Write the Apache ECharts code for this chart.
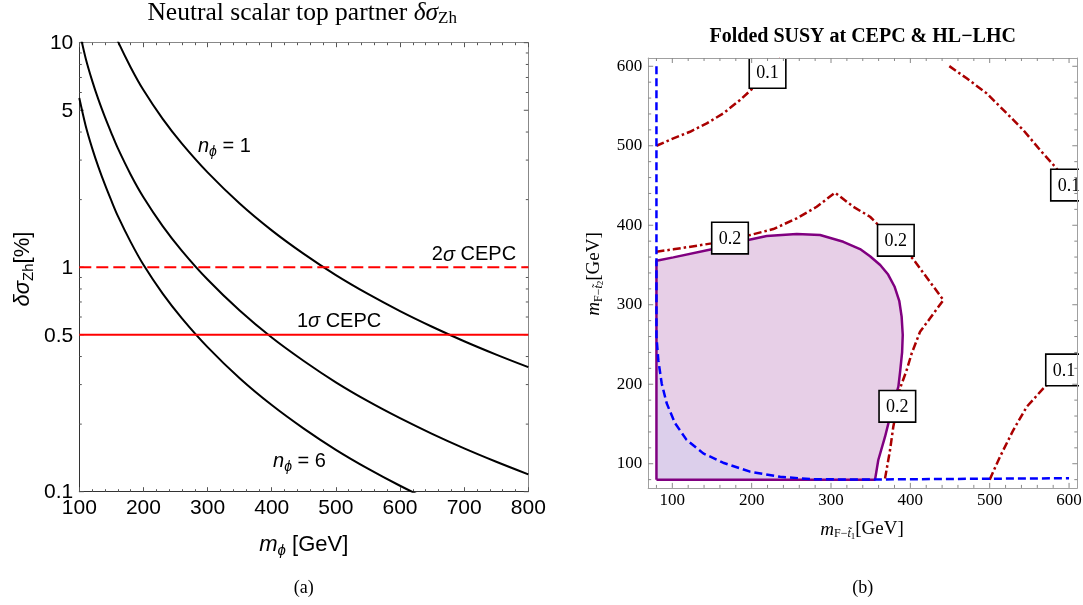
<!DOCTYPE html>
<html><head><meta charset="utf-8">
<script src="https://cdn.jsdelivr.net/npm/echarts@6/dist/echarts.min.js"></script>
<style>html,body{margin:0;padding:0;background:#fff}#c{width:1083px;height:605px}</style>
</head><body><div id="c"></div>
<script>
const SANS = "'Liberation Sans', Arial, Helvetica, sans-serif";
const SERIF = "'Liberation Serif', 'Times New Roman', Times, serif";

// ---------- Panel (a): neutral scalar top partner ----------
const massPhi = [100,110,120,130,140,150,160,180,200,230,260,300,350,400,450,500,550,600,650,700,750,800];
const deltaSigmaN1 = [34.0,25.54,20.35,16.69,13.98,11.87,10.16,7.78,6.15,4.575,3.55,2.644,1.922,1.459,1.146,0.922,0.760,0.6375,0.543,0.468,0.408,0.3586];
const deltaSigmaN3 = [11.33,8.51,6.78,5.56,4.66,3.96,3.39,2.59,2.05,1.525,1.183,0.881,0.641,0.486,0.382,0.307,0.253,0.2125,0.181,0.156,0.136,0.1195];
const deltaSigmaN6 = [5.667,4.257,3.392,2.782,2.330,1.978,1.693,1.297,1.025,0.7625,0.592,0.4407,0.3203,0.2432,0.191,0.1537,0.1267,0.1063,0.0905,0.078,0.068,0.0598];
const cepc2SigmaLevel = 1.0;
const cepc1SigmaLevel = 0.5;
const logMajorTicks = [0.1, 0.5, 1, 5, 10];
const logMajorLabels = ['0.1', '0.5', '1', '5', '10'];
const logMinorTicks = [0.2,0.3,0.4,0.6,0.7,0.8,0.9,2,3,4,6,7,8,9];

// ---------- Panel (b): folded SUSY ----------
const massMajorTicks = [100,200,300,400,500,600];
const massMajorLabels = ['100','200','300','400','500','600'];
const massMinorTicks = [80,120,140,160,180,220,240,260,280,320,340,360,380,420,440,460,480,520,540,560,580];
const purpleBoundary = [[80,80],[80,355.3],[101.3,359.6],[149.7,369.7],[185.3,379.2],[219,386.4],[256.8,388.9],[286.2,387.7],[315.5,379.2],[336.6,370],[349.2,361],[362,350],[372,338],[380,323],[386,305],[389,285],[390.4,262],[389.6,240],[387,215],[384.9,197],[376.5,167.5],[368.1,134],[359.6,104.7],[355.5,80]];
const blueBoundary = [[80,600],[80,260],[82.4,230],[86.6,201],[92.9,176],[103.4,151],[118,130],[139,113],[164,101.3],[198,90],[236,83.6],[278,80.4],[350,80.2],[600,81.8]];
const redTopLeft01 = [[80,500],[101.3,509.3],[122.3,517.6],[143.4,528.2],[164.3,540.8],[185.3,557.5],[200,571],[220,592],[236,610]];
const redMid02 = [[80,366.7],[101.3,369.7],[149.7,377.2],[172.7,383.9],[198,387.7],[227.3,395.2],[256.8,408.7],[282,423.3],[305,441],[328.1,423.3],[349.2,410.7],[357.6,402.4],[381.7,381],[403.8,357.1],[441.6,305.9],[424.8,282.9],[412.2,266],[401.7,238.9],[395.4,217.9],[387,194.8],[383.6,172.2],[378.5,146.5],[374.4,117.2],[368.1,81.6],[367.8,80]];
const redTopRight01 = [[449.1,600.2],[471,584.8],[496.2,565.9],[521.5,540.8],[542.4,519.7],[563.5,494.6],[582.4,473.6],[600,450.6],[615,430]];
const redBottomRight01 = [[500,80],[513,108.8],[529.8,142.4],[546.7,171.7],[567.6,194.8],[593.7,218],[612,232]];
const contourLabelPos = [[220,592.3],[172.7,383.9],[381.7,381],[383.6,172.2],[600,450.6],[593.7,218]];
const contourLabelText = ['0.1','0.2','0.2','0.2','0.1','0.1'];

const B_MIN = 69.6, B_MAX = 610.4;

const zip = (xs, ys) => xs.map((x, i) => [x, ys[i]]);
const blueCorner = [[80,80]].concat(blueBoundary.filter(p => p[0] <= 278 && p[1] <= 260));

const sub = (fs, shift, extra) => Object.assign({fontSize: fs, lineHeight: fs, padding: [2*shift,0,0,0]}, extra || {});

const chart = echarts.init(document.getElementById('c'), null, {renderer: 'canvas'});

const leftX = (pos, showLabel, lineColor) => ({
  gridIndex: 0, type: 'value', min: 100, max: 800, interval: 100, position: pos,
  axisLine: {show: true, lineStyle: {color: lineColor, width: 1}},
  axisTick: {show: true, inside: true, length: 4.5, lineStyle: {color: '#555'}},
  minorTick: {show: true, splitNumber: 5, length: 2.5, lineStyle: {color: '#555'}},
  axisLabel: {show: showLabel, fontFamily: SANS, fontSize: 21, color: '#000', margin: 6},
  splitLine: {show: false}, minorSplitLine: {show: false}
});
const leftY = (pos, lineColor) => ({
  gridIndex: 0, type: 'log', logBase: 10, min: 0.1, max: 10, position: pos,
  axisLine: {show: true, lineStyle: {color: lineColor, width: 1}},
  axisTick: {show: false}, minorTick: {show: false}, axisLabel: {show: false},
  splitLine: {show: false}
});
const rightAxis = (pos) => ({
  gridIndex: 1, type: 'value', min: B_MIN, max: B_MAX, interval: B_MAX - B_MIN, position: pos, z: 10,
  axisLine: {show: true, lineStyle: {color: '#a0a0a0', width: 1}},
  axisTick: {show: false}, minorTick: {show: false}, axisLabel: {show: false},
  splitLine: {show: false}
});

const lineSeries = (xi, yi, data, style, extra) => Object.assign({
  type: 'line', xAxisIndex: xi, yAxisIndex: yi, data: data, showSymbol: false, symbol: 'none',
  silent: true, animation: false, lineStyle: style
}, extra || {});

const redStyle = {color: '#aa0000', width: 2.5, type: [8, 3, 2.5, 3]};

const annText = (text, rich, align) => ({text, rich, align, verticalAlign: 'middle', textAlign: align, textVerticalAlign: 'middle'});

const nRich = {
  i: {fontFamily: SANS, fontSize: 20, fontStyle: 'italic', color: '#000'},
  s: sub(14, 5.5, {fontFamily: SANS, fontStyle: 'italic', color: '#000'}),
  r: {fontFamily: SANS, fontSize: 20, color: '#000'}
};
const xTitleRich = {
  i: {fontFamily: SANS, fontSize: 22, fontStyle: 'italic', color: '#000'},
  s: sub(15, 6, {fontFamily: SANS, fontStyle: 'italic', color: '#000'}),
  r: {fontFamily: SANS, fontSize: 22, color: '#000'}
};
const redRich = {
  r: {fontFamily: SANS, fontSize: 20, color: '#ff0000'},
  g: {fontFamily: SANS, fontSize: 20, fontStyle: 'italic', color: '#ff0000'}
};

const annotations = [
  {pos: [285, 3.45], text: '{i|n}{s|ϕ}{r| = 1}', rich: nRich, align: 'left'},
  {pos: [402, 0.136], text: '{i|n}{s|ϕ}{r| = 6}', rich: nRich, align: 'left'},
  {pos: [781, 1.134], text: '{r|2}{g|σ}{r| CEPC}', rich: redRich, align: 'right'},
  {pos: [505, 0.573], text: '{r|1}{g|σ}{r| CEPC}', rich: redRich, align: 'center'}
];

const tickLine = (x1, y1, x2, y2, color) => ({type: 'line', shape: {x1, y1, x2, y2}, style: {stroke: color, lineWidth: 1}});
const txt = (text, x, y, align, vAlign, font) => ({type: 'text', style: {text, x, y, align, verticalAlign: vAlign,
  textAlign: align, textVerticalAlign: vAlign, font, fill: '#000'}});

const mRich = {
  i: {fontFamily: SERIF, fontSize: 19, fontStyle: 'italic', color: '#000'},
  s: sub(12, 4.5, {fontFamily: SERIF, color: '#000'}),
  t: sub(12, 4.5, {fontFamily: SERIF, fontStyle: 'italic', color: '#000'}),
  u: sub(9, 7, {fontFamily: SERIF, color: '#000'}),
  r: {fontFamily: SERIF, fontSize: 19, color: '#000'}
};

const option = {
  animation: false,
  backgroundColor: '#fff',
  grid: [
    {left: 79.3, top: 42.7, right: 554.7, bottom: 113.3},
    {left: 648.2, top: 58.0, right: 5.7, bottom: 117.1}
  ],
  xAxis: [leftX('bottom', true, '#333'), leftX('top', false, '#888'), rightAxis('bottom'), rightAxis('top')],
  yAxis: [leftY('left', '#333'), leftY('right', '#888'), rightAxis('left'), rightAxis('right')],
  series: [
    // ---- panel (a)
    lineSeries(0, 0, zip(massPhi, deltaSigmaN1), {color: '#000', width: 2}, {smooth: 0.3}),
    lineSeries(0, 0, zip(massPhi, deltaSigmaN3), {color: '#000', width: 2}, {smooth: 0.3}),
    lineSeries(0, 0, zip(massPhi, deltaSigmaN6), {color: '#000', width: 2}, {smooth: 0.3}),
    lineSeries(0, 0, [[100, cepc2SigmaLevel], [800, cepc2SigmaLevel]], {color: '#ff0000', width: 2, type: [12, 5]}),
    lineSeries(0, 0, [[100, cepc1SigmaLevel], [800, cepc1SigmaLevel]], {color: '#ff0000', width: 2}),
    {
      type: 'custom', xAxisIndex: 0, yAxisIndex: 0, clip: false, silent: true,
      data: logMajorTicks.map(v => [100, v, 1]).concat(logMinorTicks.map(v => [100, v, 0])),
      renderItem: (params, api) => {
        const v = api.value(1), major = api.value(2) === 1;
        const L = api.coord([100, v]), R = api.coord([800, v]);
        const len = major ? 4.5 : 2.5;
        const ch = [tickLine(L[0], L[1], L[0] + len, L[1], '#555'), tickLine(R[0], R[1], R[0] - len, R[1], '#555')];
        if (major) ch.push(txt(logMajorLabels[logMajorTicks.indexOf(v)], L[0] - 6, L[1] + 1, 'right', 'middle', '21px ' + SANS));
        return {type: 'group', children: ch};
      }
    },
    {
      type: 'custom', xAxisIndex: 0, yAxisIndex: 0, clip: false, silent: true,
      data: annotations.map(a => a.pos),
      renderItem: (params, api) => {
        const a = annotations[params.dataIndex];
        const c = api.coord(a.pos);
        return {type: 'text', x: c[0], y: c[1], style: annText(a.text, a.rich, a.align)};
      }
    },
    // ---- panel (b)
    {
      type: 'custom', xAxisIndex: 2, yAxisIndex: 2, silent: true, data: [purpleBoundary[0]],
      renderItem: (params, api) => ({type: 'polygon', shape: {points: purpleBoundary.map(p => api.coord(p))}, style: {fill: '#e7cfe7'}})
    },
    {
      type: 'custom', xAxisIndex: 2, yAxisIndex: 2, silent: true, data: [blueCorner[0]],
      renderItem: (params, api) => ({type: 'polygon', shape: {points: blueCorner.map(p => api.coord(p))}, style: {fill: '#dccfeb'}})
    },
    lineSeries(2, 2, purpleBoundary.concat([purpleBoundary[0]]), {color: '#800080', width: 2.5}),
    lineSeries(2, 2, redTopLeft01, redStyle),
    lineSeries(2, 2, redMid02, redStyle),
    lineSeries(2, 2, redTopRight01, redStyle),
    lineSeries(2, 2, redBottomRight01, redStyle),
    lineSeries(2, 2, blueBoundary, {color: '#0000ff', width: 2.5, type: [8, 4]}),
    {
      type: 'custom', xAxisIndex: 2, yAxisIndex: 2, clip: true, silent: true, z: 5,
      data: contourLabelPos,
      renderItem: (params, api) => {
        const c = api.coord([api.value(0), api.value(1)]);
        return {type: 'group', children: [
          {type: 'rect', shape: {x: c[0] - 18.3, y: c[1] - 15.8, width: 36.6, height: 31.6}, style: {fill: '#fff', stroke: '#000', lineWidth: 1.6}},
          txt(contourLabelText[params.dataIndex], c[0], c[1] + 1, 'center', 'middle', '18px ' + SERIF)
        ]};
      }
    },
    {
      type: 'custom', xAxisIndex: 2, yAxisIndex: 2, clip: false, silent: true, z: 11,
      data: massMajorTicks.map(v => [v, v, 1]).concat(massMinorTicks.map(v => [v, v, 0])),
      renderItem: (params, api) => {
        const v = api.value(0), major = api.value(2) === 1;
        const len = major ? 5 : 3;
        const b = api.coord([v, B_MIN]), t = api.coord([v, B_MAX]);
        const l = api.coord([B_MIN, v]), r = api.coord([B_MAX, v]);
        const col = '#888';
        const ch = [
          tickLine(b[0], b[1], b[0], b[1] - len, col), tickLine(t[0], t[1], t[0], t[1] + len, col),
          tickLine(l[0], l[1], l[0] + len, l[1], col), tickLine(r[0], r[1], r[0] - len, r[1], col)
        ];
        if (major) {
          const lab = massMajorLabels[massMajorTicks.indexOf(v)];
          ch.push(txt(lab, b[0], b[1] + 4, 'center', 'top', '17px ' + SERIF));
          ch.push(txt(lab, l[0] - 6, l[1], 'right', 'middle', '17px ' + SERIF));
        }
        return {type: 'group', children: ch};
      }
    }
  ],
  graphic: [
    {type: 'text', x: 302.2, y: 13.5, silent: true, style: {
      text: '{a|Neutral scalar top partner }{g|δσ}{s|Zh}', align: 'center', verticalAlign: 'middle', textAlign: 'center', textVerticalAlign: 'middle',
      rich: {
        a: {fontFamily: SERIF, fontSize: 25.5, color: '#000'},
        g: {fontFamily: SERIF, fontSize: 25.5, fontStyle: 'italic', color: '#000'},
        s: sub(17, 5.5, {fontFamily: SERIF, color: '#000'})
      }}},
    {type: 'text', x: 303.8, y: 545, silent: true, style: {
      text: '{i|m}{s|ϕ}{r| [GeV]}', align: 'center', verticalAlign: 'middle', textAlign: 'center', textVerticalAlign: 'middle',
      rich: xTitleRich}},
    {type: 'text', x: 23, y: 269, rotation: Math.PI / 2, silent: true, style: {
      text: '{g|δσ}{s|Zh}{r|[%]}', align: 'center', verticalAlign: 'middle', textAlign: 'center', textVerticalAlign: 'middle',
      rich: {
        g: {fontFamily: SANS, fontSize: 22, fontStyle: 'italic', color: '#000'},
        s: sub(15, 5.5, {fontFamily: SANS, color: '#000'}),
        r: {fontFamily: SANS, fontSize: 22, color: '#000'}
      }}},
    {type: 'text', x: 303.8, y: 588, silent: true, style: {text: '(a)', font: '18px ' + SERIF, fill: '#000',
      align: 'center', verticalAlign: 'middle', textAlign: 'center', textVerticalAlign: 'middle'}},
    {type: 'text', x: 862.7, y: 37.3, silent: true, style: {text: 'Folded SUSY at CEPC & HL\u2212LHC', font: 'bold 20px ' + SERIF, fill: '#000',
      align: 'center', verticalAlign: 'middle', textAlign: 'center', textVerticalAlign: 'middle'}},
    {type: 'text', x: 862, y: 529.5, silent: true, style: {
      text: '{i|m}{s|F\u2212}{t|t\u0303}{u|1}{r|[GeV]}', align: 'center', verticalAlign: 'middle', textAlign: 'center', textVerticalAlign: 'middle',
      rich: mRich}},
    {type: 'text', x: 594, y: 274, rotation: Math.PI / 2, silent: true, style: {
      text: '{i|m}{s|F\u2212}{t|t\u0303}{u|2}{r|[GeV]}', align: 'center', verticalAlign: 'middle', textAlign: 'center', textVerticalAlign: 'middle',
      rich: mRich}},
    {type: 'text', x: 862.7, y: 588, silent: true, style: {text: '(b)', font: '18px ' + SERIF, fill: '#000',
      align: 'center', verticalAlign: 'middle', textAlign: 'center', textVerticalAlign: 'middle'}}
  ]
};
chart.setOption(option);
</script>
</body></html>
